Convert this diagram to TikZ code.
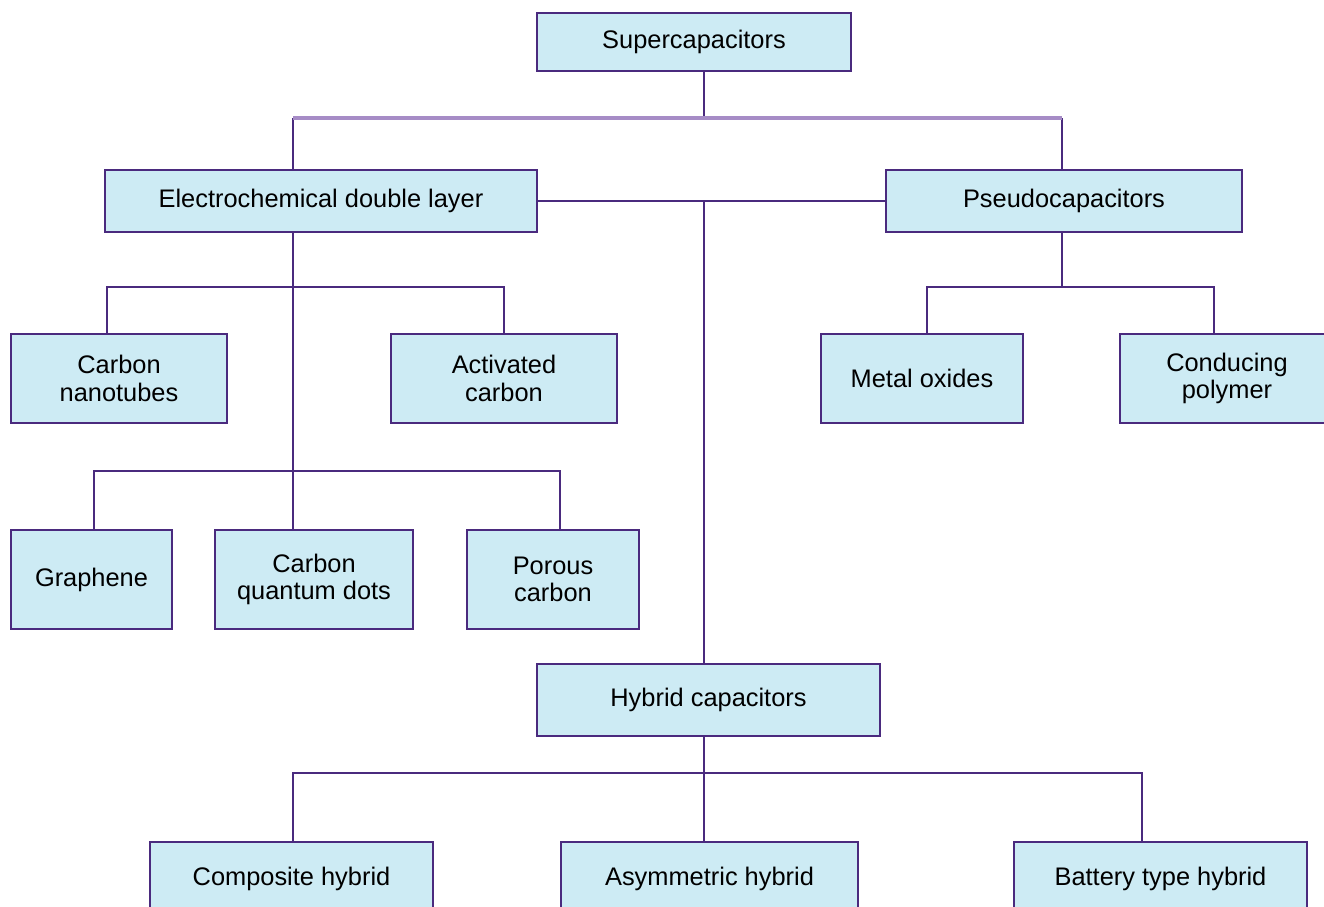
\documentclass[tikz,border=0pt]{standalone}
\usepackage{fontspec}
\setmainfont{Liberation Sans}
\definecolor{boxfill}{HTML}{CDEBF4}
\definecolor{boxline}{HTML}{4A2A7E}
\definecolor{busline}{HTML}{A68CC6}
\tikzset{
  box/.style 2 args={draw=boxline, fill=boxfill, line width=1.1pt, align=center,
    minimum width=#1*0.5pt, minimum height=#2*0.5pt, inner sep=0pt,
    font=\fontsize{12.7}{13.7}\selectfont},
  link/.style={draw=boxline, line width=1.1pt},
  toplink/.style={draw=busline, line width=2pt},
}
\begin{document}
\begin{tikzpicture}[x=0.5pt,y=-0.5pt]
  \useasboundingbox (0,0) rectangle (1324,906);
  \clip (0,0) rectangle (1324,906);

  % main classes
  \node[box={314}{58}] (sup) at (694,42) {Supercapacitors};
  \node[box={432}{62}] (edl) at (321,201) {Electrochemical double layer};
  \node[box={356}{62}] (pseudo) at (1064,201) {Pseudocapacitors};
  \node[box={343}{72}] (hyb) at (708.5,700) {Hybrid capacitors};

  % double layer materials
  \node[box={216}{89}] (cnt) at (119,378.5) {Carbon\\nanotubes};
  \node[box={226}{89}] (act) at (504,378.5) {Activated\\carbon};
  \node[box={161}{99}] (graph) at (91.5,579.5) {Graphene};
  \node[box={198}{99}] (cqd) at (314,579.5) {Carbon\\quantum dots};
  \node[box={172}{99}] (porous) at (553,579.5) {Porous\\carbon};

  % pseudo materials
  \node[box={202}{89}] (metal) at (922,378.5) {Metal oxides};
  \node[box={214}{89}] (poly) at (1227,378.5) {Conducing\\polymer};

  % hybrid types
  \node[box={283}{74}] (comp) at (291.5,879) {Composite hybrid};
  \node[box={297}{74}] (asym) at (709.5,879) {Asymmetric hybrid};
  \node[box={293}{74}] (batt) at (1160.5,879) {Battery type hybrid};

  % drop points
  \coordinate (trunk) at (704,118);
  \coordinate (edlbus) at (293,118);
  \coordinate (psbus) at (1062,118);
  \coordinate (cntx) at (107,287);
  \coordinate (graphx) at (94,471);
  \coordinate (porx) at (560,471);
  \coordinate (metx) at (927,287);
  \coordinate (polx) at (1214,287);
  \coordinate (battx) at (1142,773);

  % connectors
  \draw[link] (sup.south -| trunk) -- (trunk);
  \draw[link] (edlbus) -- (edl.north -| edlbus);
  \draw[link] (psbus) -- (pseudo.north -| psbus);
  \draw[toplink] (edlbus) -- (psbus);
  \draw[link] (edl.east) -- (pseudo.west);
  \draw[link] (trunk |- edl.east) -- (hyb.north -| trunk);

  \draw[link] (edl.south -| edlbus) -- (cqd.north -| edlbus);
  \draw[link] (cntx |- cnt.north) -- (cntx) -- (cntx -| act) -- (act.north);
  \draw[link] (graphx |- graph.north) -- (graphx) -- (porx) -- (porx |- porous.north);

  \draw[link] (pseudo.south -| psbus) -- (psbus |- metx);
  \draw[link] (metx |- metal.north) -- (metx) -- (polx) -- (polx |- poly.north);

  \draw[link] (hyb.south -| trunk) -- (asym.north -| trunk);
  \draw[link] (comp.north -| edlbus) -- (edlbus |- battx) -- (battx) -- (battx |- batt.north);
\end{tikzpicture}
\end{document}
